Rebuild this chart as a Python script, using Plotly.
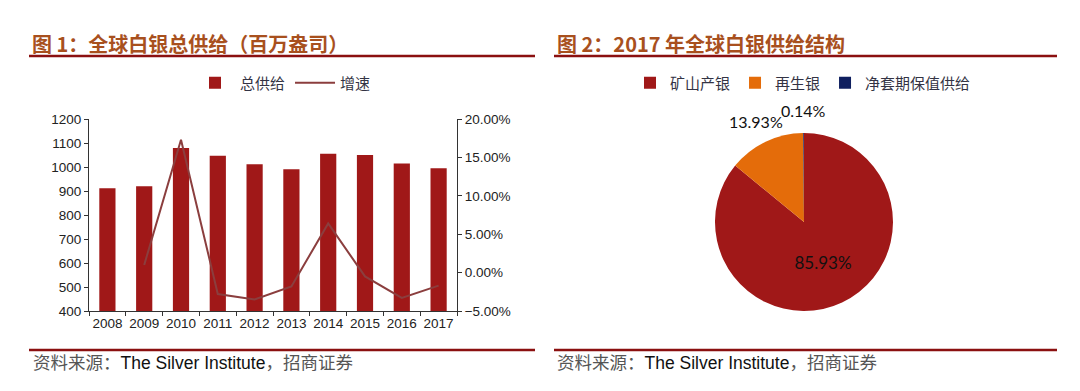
import math
import plotly.graph_objects as go

years = ["2008", "2009", "2010", "2011", "2012", "2013", "2014", "2015", "2016", "2017"]
total_supply = [911, 920, 1079, 1047, 1011, 991, 1055, 1050, 1015, 995]
growth = [None, 1.0, 17.3, -2.8, -3.5, -1.8, 6.4, -0.5, -3.3, -1.7]

pie_labels = ["矿山产银", "再生银", "净套期保值供给"]
pie_values = [85.93, 13.93, 0.14]
pie_colors = ["#A01818", "#E46C0A", "#0F1F5F"]

W, H = 1080, 391
BAR_COLOR = "#A01818"
LINE_COLOR = "#8B3E3E"
TITLE_COLOR = "#A8501E"
RULE_COLOR = "#8B1010"
TICK_FONT = dict(family="Liberation Sans, Arial", size=13.5, color="#222222")
CJK = "Noto Sans CJK SC"

# pie geometry (pixels)
PIE_CX, PIE_CY, PIE_R = 804, 222, 89
pie_dom_x = [(PIE_CX - PIE_R) / W, (PIE_CX + PIE_R) / W]
pie_dom_y = [1 - (PIE_CY + PIE_R) / H, 1 - (PIE_CY - PIE_R) / H]

fig = go.Figure()

fig.add_trace(go.Bar(
    x=years, y=total_supply, name="总供给", marker_color=BAR_COLOR,
    marker_line_width=0, xaxis="x", yaxis="y", legend="legend",
))
fig.add_trace(go.Scatter(
    x=years, y=growth, name="增速", mode="lines",
    line=dict(color=LINE_COLOR, width=2), xaxis="x", yaxis="y2",
    legend="legend", connectgaps=False,
))
fig.add_trace(go.Pie(
    labels=pie_labels, values=pie_values, sort=False, direction="clockwise",
    rotation=0, marker=dict(colors=pie_colors, line=dict(width=0)),
    texttemplate=["%{value:.2f}%", "", ""], textposition="inside",
    insidetextorientation="horizontal",
    textfont=dict(family="Lato, Open Sans", size=17, color="#111111"),
    domain=dict(x=pie_dom_x, y=pie_dom_y),
    legend="legend2", hoverinfo="label+value",
))

# outside labels for the two small slices, placed at each slice's mid-angle
total = sum(pie_values)
cum = 0.0
for i, v in enumerate(pie_values):
    mid = (cum + v / 2) / total * 2 * math.pi
    cum += v
    if i == 0:
        continue
    k = 1.25
    px = PIE_CX + k * PIE_R * math.sin(mid)
    py = PIE_CY - k * PIE_R * math.cos(mid)
    fig.add_annotation(
        text=f"{v:.2f}%", xref="paper", yref="paper", x=px / W, y=1 - py / H,
        xanchor="center", yanchor="middle", showarrow=False,
        font=dict(family="Lato, Open Sans", size=16, color="#111111"),
    )

fig.update_layout(
    width=W, height=H,
    margin=dict(l=0, r=0, t=0, b=0, autoexpand=False),
    paper_bgcolor="white", plot_bgcolor="white",
    bargap=0.56,
    xaxis=dict(
        domain=[89 / W, 457 / W], anchor="y", type="category",
        showline=True, linecolor="#333333", linewidth=1,
        ticks="outside", ticklen=4, tickcolor="#333333",
        tickson="boundaries", showgrid=False, tickangle=0,
        tickfont=TICK_FONT, automargin=False,
    ),
    yaxis=dict(
        domain=[1 - 311 / H, 1 - 119 / H], range=[400, 1200], dtick=100,
        showline=True, linecolor="#333333", linewidth=1,
        ticks="outside", ticklen=4, tickcolor="#333333",
        showgrid=False, zeroline=False, tickfont=TICK_FONT, automargin=False,
    ),
    yaxis2=dict(
        overlaying="y", side="right", anchor="x", range=[-5, 20], dtick=5,
        ticksuffix="%", tickformat=".2f",
        showline=True, linecolor="#333333", linewidth=1,
        ticks="outside", ticklen=4, tickcolor="#333333",
        showgrid=False, zeroline=False, tickfont=TICK_FONT, automargin=False,
    ),
    legend=dict(
        orientation="h", x=283 / W, xanchor="center", y=1 - 83 / H, yanchor="middle",
        font=dict(family=CJK, size=15, color="#333344"),
        itemwidth=40, bgcolor="rgba(0,0,0,0)",
    ),
    legend2=dict(
        orientation="h", x=803 / W, xanchor="center", y=1 - 83 / H, yanchor="middle",
        font=dict(family=CJK, size=15, color="#333344"),
        bgcolor="rgba(0,0,0,0)", itemwidth=30,
    ),
    showlegend=True,
)

# titles
fig.add_annotation(
    text="<b>图 1：全球白银总供给（百万盎司）</b>", xref="paper", yref="paper",
    x=30 / W, y=1 - 43 / H, xanchor="left", yanchor="middle", showarrow=False,
    font=dict(family=CJK, size=20, color=TITLE_COLOR),
)
fig.add_annotation(
    text="<b>图 2：2017 年全球白银供给结构</b>", xref="paper", yref="paper",
    x=555 / W, y=1 - 43 / H, xanchor="left", yanchor="middle", showarrow=False,
    font=dict(family=CJK, size=20, color=TITLE_COLOR),
)
# sources
for x0 in (31, 555):
    fig.add_annotation(
        text="<span style='color:#555555'>资料来源：</span>The Silver Institute<span style='color:#555555'>，招商证券</span>",
        xref="paper", yref="paper", x=x0 / W, y=1 - 363 / H,
        xanchor="left", yanchor="middle", showarrow=False,
        font=dict(family="Liberation Sans, " + CJK, size=17.5, color="#111111"),
    )

# rules
for (x0, x1) in ((29, 535), (554, 1057)):
    for yy in (56, 350):
        fig.add_shape(
            type="line", xref="paper", yref="paper",
            x0=x0 / W, x1=x1 / W, y0=1 - yy / H, y1=1 - yy / H,
            line=dict(color=RULE_COLOR, width=2.5),
        )

fig.write_html(
    "out.html",
    config={"displayModeBar": False},
    post_script="document.body.style.margin='0px';document.body.style.overflow='hidden';",
)
